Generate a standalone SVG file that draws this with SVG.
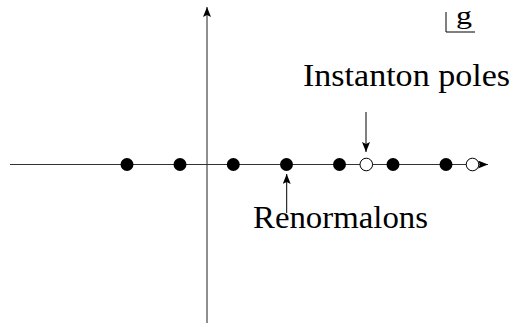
<svg xmlns="http://www.w3.org/2000/svg" width="512" height="329" viewBox="0 0 512 329">
<defs>
<marker id="ah" viewBox="0 0 10 8" refX="10" refY="4" markerWidth="10" markerHeight="8" markerUnits="userSpaceOnUse" orient="auto">
<path d="M0,0 L10,4 L0,8 L2,4 Z" fill="#000"/>
</marker>
</defs>
<style>
.ax{stroke:#333;stroke-width:1.1;fill:none}
.ar{stroke:#000;stroke-width:1;fill:none}
.pole{fill:#000}
.inst{fill:#fff;stroke:#000;stroke-width:1}
.t{font-family:"Liberation Serif","DejaVu Serif",serif;font-size:31px;fill:#000}
</style>
<rect width="512" height="329" fill="#fff"/>
<g id="connectors">
<line class="ax" x1="10" y1="164.5" x2="488" y2="164.5" marker-end="url(#ah)"/>
<line class="ax" x1="207" y1="323" x2="207" y2="7" marker-end="url(#ah)"/>
<line class="ar" x1="366" y1="112" x2="366" y2="152" marker-end="url(#ah)"/>
<line class="ar" x1="286.7" y1="213" x2="286.7" y2="174" marker-end="url(#ah)"/>
</g>
<g id="renormalons-poles">
<circle class="pole" cx="127" cy="164.5" r="6.5"/>
<circle class="pole" cx="180" cy="164.5" r="6.5"/>
<circle class="pole" cx="233.3" cy="164.5" r="6.5"/>
<circle class="pole" cx="286.5" cy="164.5" r="6.5"/>
<circle class="pole" cx="339.5" cy="164.5" r="6.5"/>
<circle class="pole" cx="393" cy="164.5" r="6.5"/>
<circle class="pole" cx="446" cy="164.5" r="6.5"/>
</g>
<g id="instanton-poles">
<circle class="inst" cx="366.3" cy="164.5" r="6.3"/>
<circle class="inst" cx="472.5" cy="164.5" r="6.3"/>
</g>
<g id="label-g">
<path d="M446,12 L446,32 L475,32" fill="none" stroke="#000" stroke-width="1"/>
<text class="t" x="456" y="24" style="font-size:26px" textLength="16" lengthAdjust="spacingAndGlyphs">g</text>
</g>
<g id="label-instanton">
<text class="t" x="303" y="86" textLength="207" lengthAdjust="spacingAndGlyphs">Instanton poles</text>
</g>
<g id="label-renormalons">
<text class="t" x="253" y="228" textLength="175" lengthAdjust="spacingAndGlyphs">Renormalons</text>
</g>
</svg>
